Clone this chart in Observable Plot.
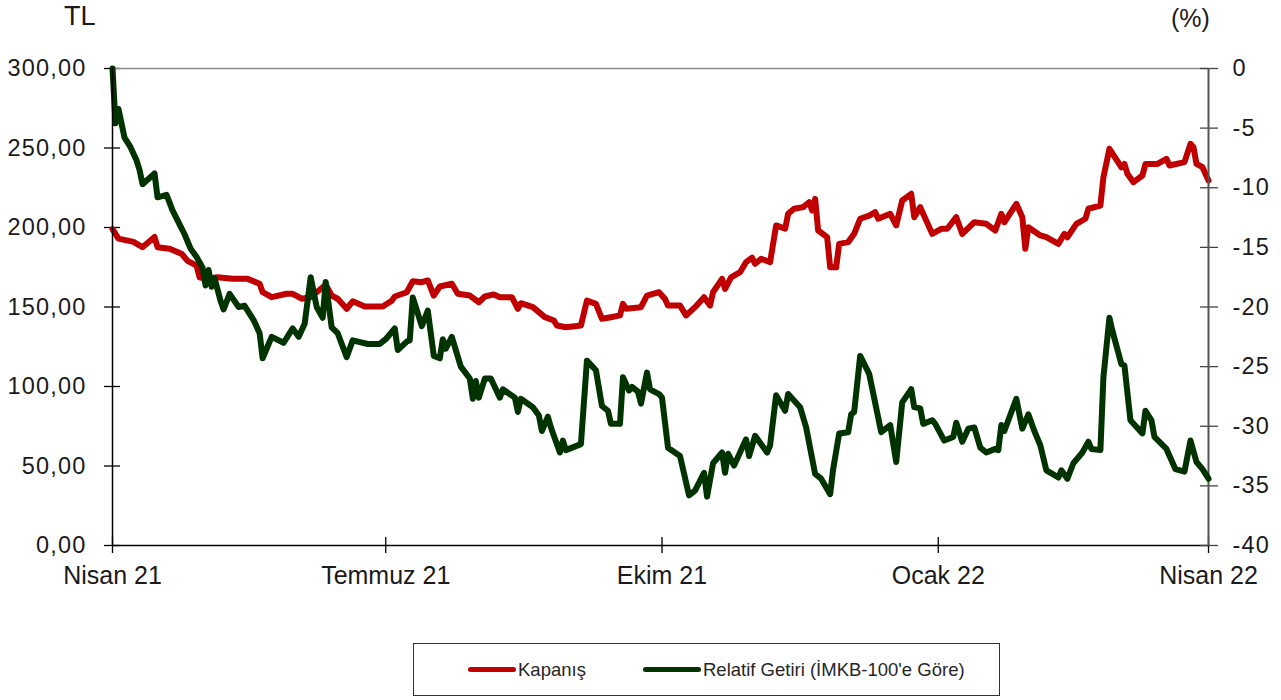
<!DOCTYPE html>
<html>
<head>
<meta charset="utf-8">
<script src="https://cdn.jsdelivr.net/npm/d3@7"></script>
<script src="https://cdn.jsdelivr.net/npm/@observablehq/plot@0.6"></script>
<style>
  html, body { margin: 0; padding: 0; background: #fff; }
  body { font-family: "Liberation Sans", Arial, sans-serif; color: #1a1a1a; }
  #wrap { position: relative; width: 1281px; height: 700px; overflow: hidden; background: #fff; }
  #chart { position: absolute; left: 0; top: 0; width: 1281px; height: 620px; }
  #chart svg { position: absolute; left: 0; top: 0; background: none !important; }
  #chart svg [aria-label^="y-axis"] text { font-size: 23.5px; letter-spacing: 1.2px; fill: #1a1a1a; }
  #chart svg [aria-label^="x-axis"] text { font-size: 25px; fill: #1a1a1a; }
  .unit { position: absolute; color: #1a1a1a; }
  #legend {
    position: absolute; left: 413px; top: 643px; width: 587px; height: 53px;
    border: 1.5px solid #333; box-sizing: border-box; background: #fff;
    font-size: 18.5px; color: #262626;
  }
  .item { position: absolute; top: 0; height: 100%; display: flex; align-items: center; white-space: nowrap; }
  .swatch { display: inline-block; height: 5px; border-radius: 3px; margin-right: 2px; }
</style>
</head>
<body>
<div id="wrap">
  <div id="chart"></div>
  <div class="unit" id="tl" style="left:64px;top:1px;font-size:27px;">TL</div>
  <div class="unit" id="pct" style="left:1171px;top:4px;font-size:25px;">(%)</div>
  <div id="legend"></div>
</div>
<script>
// ---- Data ----
const seriesNames = ["Kapanış", "Relatif Getiri (İMKB-100'e Göre)"];
const seriesColors = ["#c00000", "#003300"];

// Kapanış (TL, left axis)
const redDates = [
  "2021-04-01","2021-04-03","2021-04-08","2021-04-11","2021-04-15","2021-04-16","2021-04-20","2021-04-24","2021-04-26","2021-04-29",
  "2021-04-30","2021-05-02","2021-05-06","2021-05-11","2021-05-16","2021-05-20","2021-05-21","2021-05-24","2021-05-29","2021-05-31",
  "2021-06-03","2021-06-06","2021-06-10","2021-06-11","2021-06-13","2021-06-15","2021-06-18","2021-06-20","2021-06-24","2021-06-30",
  "2021-07-03","2021-07-04","2021-07-08","2021-07-10","2021-07-13","2021-07-15","2021-07-17","2021-07-19","2021-07-23","2021-07-25",
  "2021-07-29","2021-08-01","2021-08-03","2021-08-06","2021-08-08","2021-08-12","2021-08-14","2021-08-15","2021-08-19","2021-08-23",
  "2021-08-26","2021-08-27","2021-08-30","2021-09-04","2021-09-06","2021-09-09","2021-09-11","2021-09-14","2021-09-17","2021-09-18",
  "2021-09-19","2021-09-24","2021-09-26","2021-09-30","2021-10-02","2021-10-03","2021-10-07","2021-10-09","2021-10-12","2021-10-15",
  "2021-10-17","2021-10-18","2021-10-21","2021-10-22","2021-10-24","2021-10-27","2021-10-29","2021-10-31","2021-11-01","2021-11-03",
  "2021-11-06","2021-11-08","2021-11-11","2021-11-12","2021-11-14","2021-11-17","2021-11-19","2021-11-20","2021-11-21","2021-11-22",
  "2021-11-25","2021-11-26","2021-11-28","2021-11-29","2021-12-02","2021-12-04","2021-12-06","2021-12-09","2021-12-11","2021-12-12",
  "2021-12-16","2021-12-18","2021-12-20","2021-12-23","2021-12-24","2021-12-26","2021-12-30","2022-01-02","2022-01-04","2022-01-07",
  "2022-01-09","2022-01-13","2022-01-17","2022-01-20","2022-01-22","2022-01-23","2022-01-27","2022-01-29","2022-01-30","2022-01-31",
  "2022-02-04","2022-02-06","2022-02-10","2022-02-12","2022-02-13","2022-02-16","2022-02-19","2022-02-20","2022-02-24","2022-02-25",
  "2022-02-27","2022-03-03","2022-03-04","2022-03-05","2022-03-07","2022-03-10","2022-03-11","2022-03-15","2022-03-18","2022-03-19",
  "2022-03-24","2022-03-26","2022-03-27","2022-03-28","2022-03-30","2022-04-01"
];
const redValues = [
  199, 193, 191, 187.6, 194, 187.6, 186.6, 183.5, 179, 176,
  168.7, 167.7, 168.7, 167.7, 167.7, 164.6, 159.3, 156.2, 158.3, 158.3,
  155.2, 156.2, 162.4, 164, 157.2, 155.2, 148.9, 153.6, 150.3, 150.3,
  154, 156.6, 159.3, 166.2, 165.6, 166.7, 157.2, 162.9, 164.6, 158.3,
  157.2, 153, 156.6, 157.9, 156.2, 156.2, 148.9, 152.4, 149.9, 143.6,
  141.5, 138.4, 137.3, 138.4, 154, 152, 142.6, 143.6, 144.7, 152,
  148.9, 149.9, 157.2, 159.3, 155, 150.9, 150.9, 144.7, 149.9, 156.2,
  150.9, 159.3, 167.7, 161.4, 168.7, 171.9, 178.2, 181, 177.2, 180.3,
  178.2, 201.3, 199.2, 208.6, 211.8, 212.8, 215.9, 210.7, 218, 198.1,
  193.9, 175, 175, 189.7, 190.8, 196, 205.5, 207.5, 209.6, 205.5,
  208.6, 201.3, 217, 221.2, 206.5, 212.8, 196, 199.2, 199.2, 206.5,
  196, 203.3, 202.3, 198.1, 208.6, 203.3, 214.9, 206.5, 186.6, 200.2,
  195, 193.9, 189.7, 196, 193.9, 202.3, 205.5, 211.8, 213.8, 231.6,
  249.5, 237.9, 240, 233.8, 228.5, 232.7, 240, 240, 243.2, 239,
  241.1, 252.6, 250.5, 240, 237.9, 229.6
];

// Relatif Getiri (%, right axis)
const greenDates = [
  "2021-04-01","2021-04-02","2021-04-03","2021-04-05","2021-04-07","2021-04-09","2021-04-10","2021-04-11","2021-04-15","2021-04-16",
  "2021-04-19","2021-04-21","2021-04-24","2021-04-25","2021-04-27","2021-04-29","2021-05-01","2021-05-02","2021-05-03","2021-05-04",
  "2021-05-05","2021-05-07","2021-05-08","2021-05-10","2021-05-13","2021-05-15","2021-05-18","2021-05-20","2021-05-21","2021-05-24",
  "2021-05-28","2021-05-31","2021-06-02","2021-06-04","2021-06-06","2021-06-08","2021-06-10","2021-06-11","2021-06-13","2021-06-15",
  "2021-06-18","2021-06-20","2021-06-25","2021-06-29","2021-07-01","2021-07-04","2021-07-05","2021-07-08","2021-07-09","2021-07-10",
  "2021-07-13","2021-07-15","2021-07-17","2021-07-19","2021-07-20","2021-07-21","2021-07-23","2021-07-26","2021-07-29","2021-07-30",
  "2021-07-31","2021-08-01","2021-08-03","2021-08-05","2021-08-08","2021-08-09","2021-08-13","2021-08-14","2021-08-15","2021-08-19",
  "2021-08-21","2021-08-22","2021-08-24","2021-08-25","2021-08-28","2021-08-29","2021-08-30","2021-09-04","2021-09-06","2021-09-09",
  "2021-09-11","2021-09-13","2021-09-14","2021-09-17","2021-09-18","2021-09-20","2021-09-21","2021-09-23","2021-09-24","2021-09-26",
  "2021-09-27","2021-09-30","2021-10-01","2021-10-03","2021-10-07","2021-10-08","2021-10-10","2021-10-12","2021-10-15","2021-10-16",
  "2021-10-18","2021-10-21","2021-10-22","2021-10-23","2021-10-25","2021-10-29","2021-10-30","2021-11-01","2021-11-05","2021-11-06",
  "2021-11-08","2021-11-11","2021-11-12","2021-11-16","2021-11-18","2021-11-21","2021-11-23","2021-11-26","2021-11-27","2021-11-29",
  "2021-12-02","2021-12-03","2021-12-04","2021-12-06","2021-12-09","2021-12-13","2021-12-16","2021-12-18","2021-12-20","2021-12-23",
  "2021-12-24","2021-12-26","2021-12-27","2021-12-30","2021-12-31","2022-01-03","2022-01-06","2022-01-07","2022-01-09","2022-01-11",
  "2022-01-13","2022-01-15","2022-01-17","2022-01-20","2022-01-21","2022-01-22","2022-01-23","2022-01-27","2022-01-29","2022-01-31",
  "2022-02-02","2022-02-04","2022-02-06","2022-02-08","2022-02-10","2022-02-11","2022-02-13","2022-02-15","2022-02-18","2022-02-20",
  "2022-02-21","2022-02-24","2022-02-25","2022-02-27","2022-02-28","2022-03-03","2022-03-04","2022-03-06","2022-03-10","2022-03-11",
  "2022-03-13","2022-03-14","2022-03-18","2022-03-21","2022-03-24","2022-03-26","2022-03-28","2022-03-30","2022-04-01"
];
const greenValues = [
  0, -4.6, -3.4, -5.8, -6.6, -7.7, -8.5, -9.7, -8.8, -10.8,
  -10.6, -11.9, -13.4, -13.9, -15.1, -15.8, -16.7, -18.2, -16.9, -18.3,
  -17.6, -19.5, -20.2, -18.9, -20.0, -19.9, -21.1, -22.2, -24.3, -22.5,
  -23.0, -21.8, -22.5, -21.4, -17.5, -20.0, -20.9, -17.9, -21.7, -22.2,
  -24.2, -22.8, -23.1, -23.1, -22.7, -21.8, -23.6, -22.9, -22.8, -19.2,
  -21.6, -20.3, -24.1, -24.3, -22.7, -23.5, -22.5, -25.0, -26.0, -27.7,
  -26.2, -27.6, -26.0, -26.0, -27.6, -26.9, -27.6, -28.8, -27.7, -28.4,
  -29.1, -30.4, -29.2, -30.1, -32.2, -31.2, -32.0, -31.5, -24.5, -25.3,
  -28.3, -28.7, -29.8, -29.8, -25.9, -27.0, -26.7, -27.1, -28.1, -25.5,
  -26.9, -27.3, -27.6, -31.8, -32.5, -33.6, -35.8, -35.4, -33.9, -35.9,
  -33.1, -32.2, -33.9, -32.3, -33.3, -31.1, -32.5, -30.8, -32.2, -31.6,
  -27.4, -28.7, -27.3, -28.4, -30.1, -34.0, -34.4, -35.7, -33.6, -30.6,
  -30.5, -29.0, -28.8, -24.1, -25.6, -30.5, -29.9, -33.0, -28.0, -26.9,
  -28.4, -28.5, -29.8, -29.5, -29.8, -31.2, -30.9, -29.7, -31.3, -30.2,
  -30.1, -31.8, -32.2, -31.9, -32.0, -29.9, -30.4, -27.7, -30.2, -29.0,
  -30.4, -31.6, -33.7, -34.0, -34.3, -33.7, -34.4, -33.1, -32.2, -31.3,
  -31.9, -32.0, -25.9, -20.9, -22.0, -24.8, -24.9, -29.5, -30.6, -28.7,
  -29.5, -30.9, -31.9, -33.6, -33.8, -31.2, -33.0, -33.6, -34.4
];

// Axes
const xTickDates = ["2021-04-01","2021-07-01","2021-10-01","2022-01-01","2022-04-01"];
const xTickLabels = ["Nisan 21","Temmuz 21","Ekim 21","Ocak 22","Nisan 22"];
const leftTicks = [0, 50, 100, 150, 200, 250, 300];
const leftTickLabels = ["0,00","50,00","100,00","150,00","200,00","250,00","300,00"];
const rightTicks = [-40, -35, -30, -25, -20, -15, -10, -5, 0];
const rightTickLabels = ["-40","-35","-30","-25","-20","-15","-10","-5","0"];

// ---- Build ----
const parse = d3.utcParse("%Y-%m-%d");
const tlDomain = [0, 300];
const pctDomain = [-40, 0];

const red = redDates.map((d, i) => ({date: parse(d), value: redValues[i]}));
const green = greenDates.map((d, i) => ({date: parse(d), value: greenValues[i]}));

const xTicks = xTickDates.map(parse);
const xLabelMap = new Map(xTicks.map((d, i) => [+d, xTickLabels[i]]));
const leftLabelMap = new Map(leftTicks.map((v, i) => [v, leftTickLabels[i]]));
const rightLabelMap = new Map(rightTicks.map((v, i) => [v, rightTickLabels[i]]));
const xDomain = [xTicks[0], xTicks[xTicks.length - 1]];

const W = 1281, H = 620;
const margins = {marginLeft: 112, marginRight: 73, marginTop: 68, marginBottom: 75};
const baseStyle = {fontFamily: "'Liberation Sans', Arial, sans-serif", color: "#1a1a1a", background: "none", overflow: "visible"};

// Left (TL) layer: frame, x axis, left axis, Kapanış line
const plotLeft = Plot.plot({
  width: W, height: H, ...margins,
  style: baseStyle,
  x: {type: "utc", domain: xDomain, ticks: xTicks, tickSize: 16, tickPadding: 5,
      tickFormat: d => xLabelMap.get(+d), label: null},
  y: {domain: tlDomain, axis: "left", ticks: leftTicks, tickSize: 16, tickPadding: 10,
      tickFormat: v => leftLabelMap.get(v), label: null},
  marks: [
    Plot.ruleY([tlDomain[1]], {stroke: "#8c8c8c", strokeWidth: 1.5}),
    Plot.line(red, {x: "date", y: "value", stroke: seriesColors[0], strokeWidth: 6,
      strokeLinejoin: "round", strokeLinecap: "round"}),
    Plot.ruleY([tlDomain[0]], {stroke: "#000", strokeWidth: 1.5})
  ]
});

// Right (%) layer: Relatif Getiri line and right axis
const plotRight = Plot.plot({
  width: W, height: H, ...margins,
  style: baseStyle,
  x: {type: "utc", domain: xDomain, axis: null},
  y: {domain: pctDomain, axis: "right", ticks: rightTicks, tickSize: 16, tickPadding: 8,
      tickFormat: v => rightLabelMap.get(v), label: null},
  marks: [
    Plot.ruleX([xDomain[1]], {stroke: "#555", strokeWidth: 2}),
    Plot.line(green, {x: "date", y: "value", stroke: seriesColors[1], strokeWidth: 6,
      strokeLinejoin: "round", strokeLinecap: "round"}),
    Plot.ruleX([xDomain[0]], {stroke: "#000", strokeWidth: 1.5})
  ]
});

const chart = document.getElementById("chart");
chart.appendChild(plotLeft);
chart.appendChild(plotRight);

// Make the axis ticks cross the axis line (as in the reference)
function crossTicks(svg, prefix, orient, half, color) {
  svg.querySelectorAll(`[aria-label^="${prefix}"] line`).forEach(l => {
    if (orient === "x") { l.setAttribute("y1", -half); l.setAttribute("y2", half); }
    else { l.setAttribute("x1", -half); l.setAttribute("x2", half); }
    l.setAttribute("stroke", color); l.setAttribute("stroke-width", 1.3);
  });
  svg.querySelectorAll(`[aria-label="${prefix} tick"] path`).forEach(p => {
    const d = orient === "x" ? `M0,${-half}L0,${half}` : `M${-half},0L${half},0`;
    p.setAttribute("d", d);
    p.setAttribute("stroke", color); p.setAttribute("stroke-width", 1.3);
  });
}
crossTicks(plotLeft, "x-axis", "x", 8, "#000");
crossTicks(plotLeft, "y-axis", "y", 8, "#000");
crossTicks(plotRight, "y-axis", "y", 9, "#444");

// legend
const legend = document.getElementById("legend");
const legendLayout = [{left: 54, w: 48}, {left: 229, w: 58}];
seriesNames.forEach((name, i) => {
  const item = document.createElement("div");
  item.className = "item";
  item.style.left = legendLayout[i].left + "px";
  const sw = document.createElement("span");
  sw.className = "swatch";
  sw.style.width = legendLayout[i].w + "px";
  sw.style.background = seriesColors[i];
  const tx = document.createElement("span");
  tx.textContent = name;
  item.appendChild(sw);
  item.appendChild(tx);
  legend.appendChild(item);
});
</script>
</body>
</html>
